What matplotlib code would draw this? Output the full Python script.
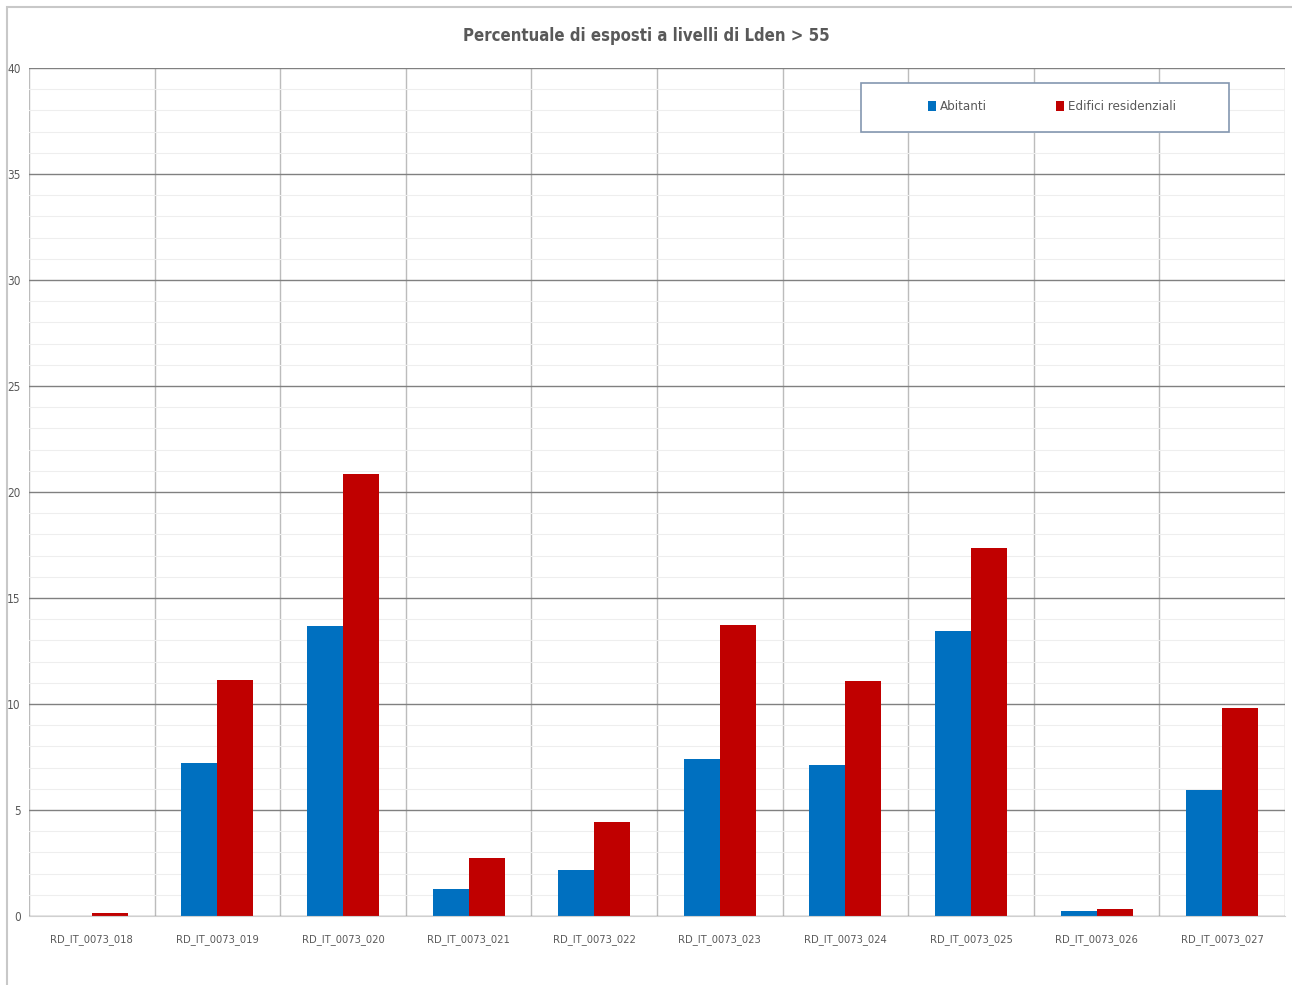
import matplotlib.pyplot as plt
import numpy as np
from matplotlib import font_manager
from matplotlib.patches import Rectangle

# Dati: percentuale di esposti a Lden > 55
aree = ["RD_IT_0073_018", "RD_IT_0073_019", "RD_IT_0073_020", "RD_IT_0073_021",
        "RD_IT_0073_022", "RD_IT_0073_023", "RD_IT_0073_024", "RD_IT_0073_025",
        "RD_IT_0073_026", "RD_IT_0073_027"]
abitanti = [0.0, 7.22, 13.68, 1.27, 2.17, 7.41, 7.12, 13.44, 0.24, 5.94]
edifici = [0.15, 11.13, 20.85, 2.74, 4.43, 13.73, 11.08, 17.36, 0.33, 9.81]

# font stretto se disponibile
installed = {f.name for f in font_manager.fontManager.ttflist}
font = "Liberation Sans Narrow" if "Liberation Sans Narrow" in installed else "DejaVu Sans"
plt.rcParams["font.family"] = [font, "DejaVu Sans"]
if font == "DejaVu Sans":
    plt.rcParams["font.stretch"] = "condensed"

grigio = "#595959"
W, H = 1292, 985

fig = plt.figure(figsize=(W / 100, H / 100), dpi=100)
ax = fig.add_axes([29 / W, 1 - 916 / H, (1285 - 29) / W, (916 - 68) / H])

# cornice esterna
fig.patches.append(Rectangle((7 / W, -0.05), 1.2, 1 - 7 / H + 0.05,
                             transform=fig.transFigure, fill=False,
                             edgecolor="#c8c8c8", linewidth=1.5, zorder=-1))

x = np.arange(len(aree))
w = 0.287
ax.bar(x - w / 2, abitanti, w, color="#0070c0", label="Abitanti", zorder=3)
ax.bar(x + w / 2, edifici, w, color="#c00000", label="Edifici residenziali", zorder=3)

ax.set_xlim(-0.5, len(aree) - 0.5)
ax.set_ylim(0, 40)
ax.set_yticks(np.arange(0, 41, 5))
ax.set_yticks(np.arange(0, 41, 1), minor=True)
ax.set_xticks(x)
ax.set_xticklabels(aree)

# griglia
ax.grid(axis="y", which="major", color="#808080", linewidth=1.0, zorder=1)
ax.grid(axis="y", which="minor", color="#eeeeee", linewidth=0.8, zorder=0)
for xv in np.arange(-0.5, len(aree), 1.0):
    ax.axvline(xv, color="#bcbcbc", linewidth=1.0, zorder=1)

ax.tick_params(axis="both", which="both", length=0, colors=grigio)
ax.tick_params(axis="y", labelsize=8.5, pad=6)
ax.tick_params(axis="x", labelsize=8, pad=13)
for s in ["left", "right", "top"]:
    ax.spines[s].set_visible(False)
ax.spines["bottom"].set_color("#d0d0d0")
ax.spines["bottom"].set_zorder(4)

fig.text(0.5, 1 - 36 / H, "Percentuale di esposti a livelli di Lden > 55",
         ha="center", va="center", fontsize=12, fontweight="bold", color=grigio)

# riquadro della legenda
fig.patches.append(Rectangle((861 / W, 1 - 132 / H), (1229 - 861) / W, (132 - 83) / H,
                             transform=fig.transFigure, facecolor="white",
                             edgecolor="#8497b0", linewidth=1.2, zorder=5))
leg = fig.legend(*ax.get_legend_handles_labels(), loc="center",
                 bbox_to_anchor=(1052 / W, 1 - 107 / H),
                 ncol=2, frameon=False, fontsize=9.5,
                 handlelength=0.55, handleheight=0.8, handletextpad=0.3,
                 columnspacing=5.3)
leg.set_zorder(6)
for t in leg.get_texts():
    t.set_color(grigio)

fig.savefig("out.png", dpi=100, facecolor="white")
